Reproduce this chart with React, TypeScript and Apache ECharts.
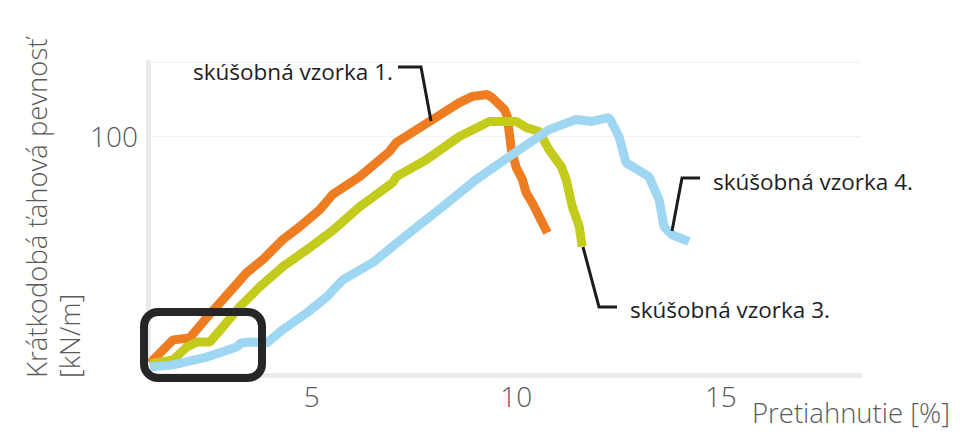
import React, { useEffect, useRef } from "react";
import * as echarts from "echarts";

// Sample 1 (orange): [strain %, strength kN/m]
const sample1: [number, number][] = [
  [1.05, 5.0], [1.61, 14.7], [2.02, 15.5], [2.39, 23.1], [2.76, 30.2], [3.41, 42.8],
  [3.8, 48.2], [4.29, 56.6], [4.71, 62.1], [5.2, 69.2], [5.51, 75.5], [6.17, 83.0],
  [6.9, 93.5], [7.07, 97.3], [7.88, 106.1], [8.61, 114.0], [8.93, 116.6], [9.29, 117.4],
  [9.41, 116.1], [9.71, 111.1], [9.78, 108.2], [9.88, 94.3], [10.0, 86.8], [10.15, 81.8],
  [10.24, 76.3], [10.39, 72.1], [10.76, 59.5],
];
// Sample 3 (yellow-green)
const sample3: [number, number][] = [
  [1.05, 4.6], [1.61, 6.3], [1.95, 11.7], [2.2, 13.8], [2.51, 13.8], [2.83, 20.1],
  [3.24, 28.5], [3.73, 36.9], [4.29, 45.3], [4.88, 52.4], [5.51, 60.4], [6.17, 70.4],
  [6.98, 80.5], [7.07, 83.0], [7.8, 90.1], [8.61, 99.8], [9.34, 106.1], [10.0, 106.1],
  [10.24, 103.6], [10.56, 101.9], [10.8, 94.3], [11.1, 87.2], [11.22, 81.8], [11.37, 70.4],
  [11.54, 62.1], [11.61, 53.7],
];
// Sample 4 (light blue)
const sample4: [number, number][] = [
  [1.05, 3.4], [1.61, 4.2], [2.44, 7.5], [3.17, 11.7], [3.27, 13.4], [3.49, 13.8],
  [3.9, 13.4], [4.29, 18.9], [4.88, 26.0], [5.37, 32.7], [5.76, 39.8], [6.49, 47.0],
  [7.39, 59.5], [8.2, 70.4], [9.02, 81.8], [9.83, 91.4], [10.8, 102.7], [11.46, 106.9],
  [11.85, 106.1], [12.27, 107.8], [12.51, 99.8], [12.68, 88.9], [13.24, 83.0], [13.49, 73.4],
  [13.61, 62.1], [13.8, 58.7], [14.22, 55.8],
];

const xTickLabels = [5, 10, 15];
const yTickLabels = [100];
const seriesNames = ["skúšobná vzorka 1.", "skúšobná vzorka 3.", "skúšobná vzorka 4."];
const colors = ["#ee7d22", "#c3cb1d", "#9fd7f3"];
const yAxisTitle = "Krátkodobá ťahová pevnosť\n[kN/m]";
const xAxisTitle = "Pretiahnutie [%]";

const FONT = "'Open Sans', 'Noto Sans', sans-serif";

export default function App() {
  const ref = useRef<HTMLDivElement>(null);
  useEffect(() => {
    if (!ref.current) return;
    const chart = echarts.init(ref.current, undefined, { renderer: "svg" });
    const lead = { stroke: "#1c1c1c", lineWidth: 3, fill: "none" };
    const noteStyle = (text: string, x: number, y: number) => ({
      type: "text",
      x,
      y,
      z: 100,
      style: { text, fill: "#1e1e1e", font: `22.5px ${FONT}`, textAlign: "left", textVerticalAlign: "middle" },
    });
    chart.setOption({
      animation: false,
      backgroundColor: "#ffffff",
      grid: { left: 148, right: 100, top: 62, bottom: 72, containLabel: false },
      xAxis: {
        type: "value",
        min: 1,
        max: 18.4,
        interval: 1,
        name: xAxisTitle,
        nameLocation: "end",
        nameGap: 90,
        nameTextStyle: {
          align: "right",
          verticalAlign: "top",
          fontSize: 27.5,
          fontFamily: FONT,
          fontWeight: 300,
          color: "#5a5a5a",
          lineHeight: 32,
          padding: [21, 0, 0, 0],
        },
        axisLine: { show: true, lineStyle: { color: "#ebebeb", width: 5 } },
        axisTick: { show: false },
        splitLine: { show: false },
        axisLabel: {
          formatter: (v: number) => (xTickLabels.includes(Math.round(v * 100) / 100) ? String(Math.round(v)) : ""),
          fontSize: 28,
          fontFamily: FONT,
          fontWeight: 300,
          color: "#5a5a5a",
          margin: 7,
        },
      },
      yAxis: {
        type: "value",
        min: 0,
        max: 131,
        interval: 100,
        axisLine: { show: true, lineStyle: { color: "#ebebeb", width: 5 } },
        axisTick: { show: false },
        splitLine: { show: true, lineStyle: { color: "#f1f1f1", width: 1 } },
        axisLabel: {
          formatter: (v: number) => (yTickLabels.includes(Math.round(v)) ? String(Math.round(v)) : ""),
          fontSize: 28,
          fontFamily: FONT,
          fontWeight: 300,
          color: "#5a5a5a",
          margin: 10,
        },
      },
      series: [sample1, sample3, sample4].map((d, i) => ({
        name: seriesNames[i],
        type: "line",
        data: d,
        showSymbol: false,
        smooth: false,
        lineStyle: { color: colors[i], width: 9 },
        itemStyle: { color: colors[i] },
        z: 2 + i,
      })),
      graphic: [
        {
          type: "text",
          x: 20,
          y: 378,
          rotation: Math.PI / 2,
          z: 100,
          style: {
            text: yAxisTitle,
            fill: "#5a5a5a",
            font: `300 27.5px ${FONT}`,
            textAlign: "left",
            textVerticalAlign: "top",
            lineHeight: 33,
          },
        },
        {
          type: "rect",
          z: 100,
          shape: { x: 144, y: 312, width: 118, height: 66, r: 14 },
          style: { fill: "none", stroke: "#262626", lineWidth: 8 },
        },
        { type: "polyline", z: 100, shape: { points: [[398, 67], [421, 67], [431, 121]] }, style: lead },
        { type: "polyline", z: 100, shape: { points: [[700, 178], [682, 178], [672, 231]] }, style: lead },
        { type: "polyline", z: 100, shape: { points: [[583, 247], [599, 307], [617, 307]] }, style: lead },
        noteStyle(seriesNames[0], 193, 71),
        noteStyle("skúšobná vzorka 4.", 713, 181),
        noteStyle(seriesNames[1], 630, 309),
      ],
    });
    return () => chart.dispose();
  }, []);
  return (
    <div
      ref={ref}
      style={{ position: "fixed", left: 0, top: 0, width: 960, height: 447, background: "#fff" }}
    />
  );
}
